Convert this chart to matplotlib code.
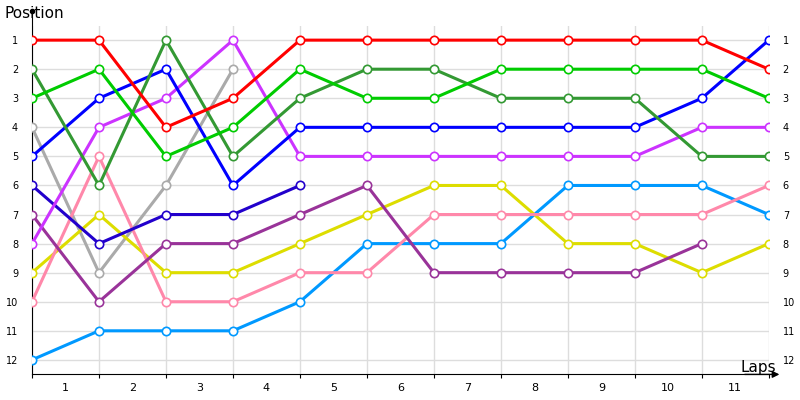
import numpy as np
import matplotlib.pyplot as plt

# positions at each lap boundary (x = 0..11), None = retired
red = [1, 1, 4, 3, 1, 1, 1, 1, 1, 1, 1, 2]
green = [3, 2, 5, 4, 2, 3, 3, 2, 2, 2, 2, 3]
dark_green = [2, 6, 1, 5, 3, 2, 2, 3, 3, 3, 5, 5]
blue = [5, 3, 2, 6, 4, 4, 4, 4, 4, 4, 3, 1]
magenta = [8, 4, 3, 1, 5, 5, 5, 5, 5, 5, 4, 4]
gray = [4, 9, 6, 2]
pink = [10, 5, 10, 10, 9, 9, 7, 7, 7, 7, 7, 6]
navy = [6, 8, 7, 7, 6]
purple = [7, 10, 8, 8, 7, 6, 9, 9, 9, 9, 8]
yellow = [9, 7, 9, 9, 8, 7, 6, 6, 8, 8, 9, 8]
light_blue = [12, 11, 11, 11, 10, 8, 8, 8, 6, 6, 6, 7]

series = [
    (gray, '#aaaaaa'),
    (light_blue, '#0099ff'),
    (yellow, '#dddd00'),
    (pink, '#ff88aa'),
    (purple, '#993399'),
    (navy, '#2200cc'),
    (magenta, '#cc33ff'),
    (blue, '#0000ff'),
    (dark_green, '#339933'),
    (green, '#00cc00'),
    (red, '#ff0000'),
]

laps = list(range(1, 12))
positions = list(range(1, 13))

fig = plt.figure(figsize=(8, 4), dpi=100)
ax = fig.add_axes([0.04, 0.064, 0.921, 0.872])

for vals, col in series:
    x = np.arange(len(vals))
    ax.plot(x, vals, color=col, lw=2.2, marker='o', ms=6,
            mfc='white', mec=col, mew=1.2, zorder=3)

ax.set_xlim(0, 11)
ax.set_ylim(12.5, 0.5)
ax.set_xticks(range(0, 12))
ax.set_xticklabels([])
ax.set_xticks([l - 0.5 for l in laps], minor=True)
ax.set_xticklabels([str(l) for l in laps], minor=True, fontsize=8)
ax.tick_params(axis='x', which='minor', length=0, pad=6)
ax.tick_params(axis='x', which='major', length=3)
ax.set_yticks(positions)
ax.set_yticklabels([str(p) for p in positions], fontsize=7)
ax.tick_params(axis='y', length=0, pad=10, labelright=True)
ax.grid(True, which='major', color='#dddddd', lw=1)
for s in ['top', 'right']:
    ax.spines[s].set_visible(False)
ax.spines['left'].set_color('black')
ax.spines['bottom'].set_color('black')
ax.spines['left'].set_bounds(12.5, 0.0)

ax.annotate('', xy=(11.2, 12.5), xytext=(10.6, 12.5),
            arrowprops=dict(arrowstyle='-|>', color='black', lw=1),
            annotation_clip=False)
ax.plot([0], [0.0], marker='o', ms=3, color='black', clip_on=False)
fig.text(0.005, 0.955, 'Position', fontsize=11)
fig.text(0.925, 0.07, 'Laps', fontsize=11)

fig.savefig('out.png')
